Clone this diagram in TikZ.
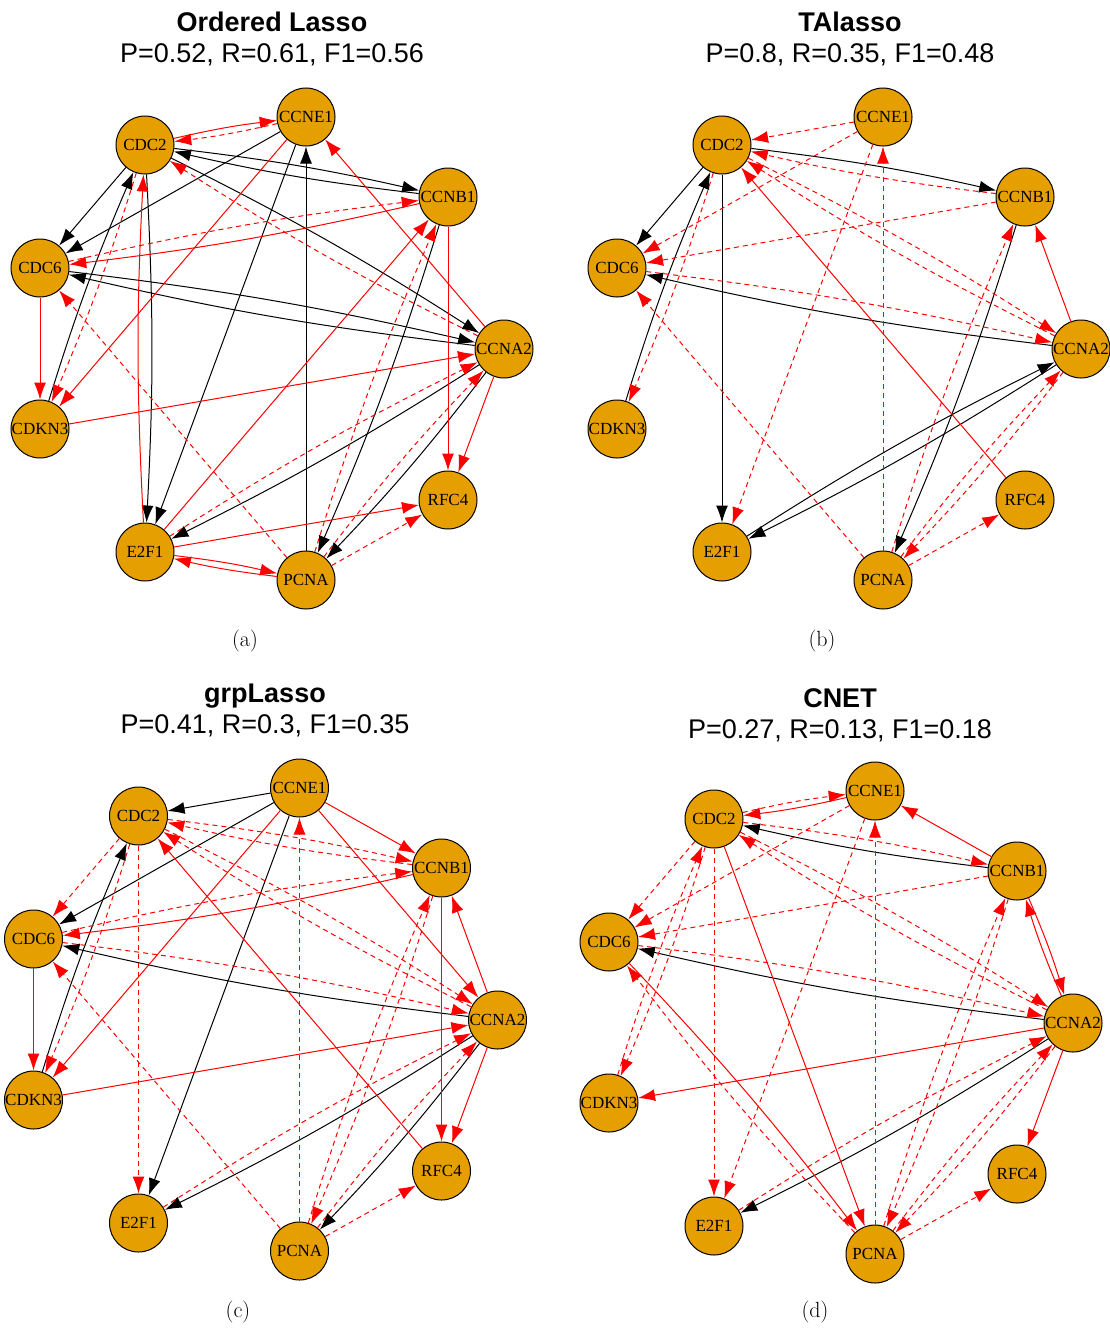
\documentclass[tikz,border=0pt]{standalone}
\usepackage{fontspec}
\setsansfont{Liberation Sans}
\newfontfamily\genefont{Liberation Serif}
\usetikzlibrary{arrows.meta}
\definecolor{geneorange}{RGB}{230,159,0}
\tikzset{%
  tip/.tip={Latex[length=17pt,width=12pt]}, % arrow style
  gene/.style={circle,draw,fill=geneorange,line width=1pt,
    minimum size=58pt,inner sep=0pt,font=\genefont\fontsize{17}{17}\selectfont},
  kedge/.style={-tip,line width=1pt,black},
  redge/.style={-tip,line width=1pt,red},
  dedge/.style={-tip,line width=1pt,red,dash pattern=on 5pt off 4pt},
  twin/.style={bend left=3},
  paneltitle/.style={align=center,font=\sffamily\fontsize{27}{31}\selectfont},
  panelcap/.style={font=\rmfamily\fontsize{22}{22}\selectfont}
}
\newcommand{\genenet}[3]{% prefix, x shift, y shift
  \begin{scope}[shift={(#2,#3)}]
    \node[gene] (#1CDC2)  at (145,145) {CDC2};
    \node[gene] (#1CCNE1) at (306,117) {CCNE1};
    \node[gene] (#1CCNB1) at (448,197) {CCNB1};
    \node[gene] (#1CDC6)  at (40,268)  {CDC6};
    \node[gene] (#1CCNA2) at (504,349) {CCNA2};
    \node[gene] (#1CDKN3) at (40,429)  {CDKN3};
    \node[gene] (#1RFC4)  at (448,500) {RFC4};
    \node[gene] (#1E2F1)  at (145,552) {E2F1};
    \node[gene] (#1PCNA)  at (306,580) {PCNA};
  \end{scope}
}

\begin{document}
\begin{tikzpicture}[x=1pt,y=-1pt]
  \useasboundingbox (0,0) rectangle (1110,1330);
  % titles
  \node[paneltitle] (ta) at (272,39)  {\textbf{Ordered Lasso}\\P=0.52, R=0.61, F1=0.56};
  \node[paneltitle] (tb) at (850,39)  {\textbf{TAlasso}\\P=0.8, R=0.35, F1=0.48};
  \node[paneltitle] (tc) at (265,710) {\textbf{grpLasso}\\P=0.41, R=0.3, F1=0.35};
  \node[paneltitle] (td) at (840,715) {\textbf{CNET}\\P=0.27, R=0.13, F1=0.18};
  % captions
  \node[panelcap] (ca) at (245,641)  {(a)};
  \node[panelcap] (cb) at (822,641)  {(b)};
  \node[panelcap] (cc) at (238,1312) {(c)};
  \node[panelcap] (cd) at (815,1312) {(d)};
  % genes
  \genenet{a}{0}{0}
  \genenet{b}{577}{0}
  \genenet{c}{-6.5}{671}
  \genenet{d}{569}{674}
  % (a) Ordered Lasso
  \draw[kedge] (aCDC2) to[twin] (aCCNB1);
  \draw[kedge] (aCCNB1) to[twin] (aCDC2);
  \draw[kedge] (aCDC2) -- (aCDC6);
  \draw[kedge] (aCCNE1) -- (aCDC6);
  \draw[kedge] (aCCNE1) -- (aE2F1);
  \draw[kedge] (aCDC2) to[twin] (aE2F1);
  \draw[kedge] (aCDKN3) to[twin] (aCDC2);
  \draw[kedge] (aPCNA) -- (aCCNE1);
  \draw[kedge] (aCDC2) to[twin] (aCCNA2);
  \draw[kedge] (aCDC6) to[twin] (aCCNA2);
  \draw[kedge] (aCCNA2) to[twin] (aCDC6);
  \draw[kedge] (aCCNB1) to[twin] (aPCNA);
  \draw[kedge] (aCCNA2) to[twin] (aE2F1);
  \draw[kedge] (aCCNA2) to[twin] (aPCNA);
  \draw[redge] (aCDC2) to[twin] (aCCNE1);
  \draw[redge] (aCCNB1) to[twin] (aCDC6);
  \draw[redge] (aCDC6) -- (aCDKN3);
  \draw[redge] (aCCNE1) -- (aCDKN3);
  \draw[redge] (aCCNA2) -- (aCCNE1);
  \draw[redge] (aE2F1) to[twin] (aCDC2);
  \draw[redge] (aE2F1) -- (aCCNB1);
  \draw[redge] (aCDKN3) -- (aCCNA2);
  \draw[redge] (aCCNB1) -- (aRFC4);
  \draw[redge] (aCCNA2) -- (aRFC4);
  \draw[redge] (aE2F1) -- (aRFC4);
  \draw[redge] (aE2F1) to[twin] (aPCNA);
  \draw[redge] (aPCNA) to[twin] (aE2F1);
  \draw[dedge] (aCCNE1) to[twin] (aCDC2);
  \draw[dedge] (aCDC6) to[twin] (aCCNB1);
  \draw[dedge] (aCCNA2) to[twin] (aCDC2);
  \draw[dedge] (aPCNA) -- (aCDC6);
  \draw[dedge] (aCDC2) to[twin] (aCDKN3);
  \draw[dedge] (aE2F1) to[twin] (aCCNA2);
  \draw[dedge] (aPCNA) to[twin] (aCCNA2);
  \draw[dedge] (aPCNA) to[twin] (aCCNB1);
  \draw[dedge] (aPCNA) -- (aRFC4);
  % (b) TAlasso
  \draw[kedge] (bCDC2) to[twin] (bCCNB1);
  \draw[kedge] (bCDC2) -- (bCDC6);
  \draw[kedge] (bCCNA2) to[twin] (bCDC6);
  \draw[kedge] (bCDKN3) to[twin] (bCDC2);
  \draw[kedge] (bCDC2) -- (bE2F1);
  \draw[kedge] (bCCNA2) to[twin] (bE2F1);
  \draw[kedge] (bE2F1) to[twin] (bCCNA2);
  \draw[kedge] (bCCNB1) to[twin] (bPCNA);
  \draw[redge] (bRFC4) -- (bCDC2);
  \draw[redge] (bCCNA2) -- (bCCNB1);
  \draw[dedge] (bCCNE1) -- (bCDC2);
  \draw[dedge] (bCCNB1) to[twin] (bCDC2);
  \draw[dedge] (bCCNA2) to[twin] (bCDC2);
  \draw[dedge] (bCDC2) to[twin] (bCCNA2);
  \draw[dedge] (bCCNE1) -- (bCDC6);
  \draw[dedge] (bCCNB1) -- (bCDC6);
  \draw[dedge] (bCDC6) to[twin] (bCCNA2);
  \draw[dedge] (bPCNA) -- (bCDC6);
  \draw[dedge] (bCDC2) to[twin] (bCDKN3);
  \draw[dedge] (bCCNE1) -- (bE2F1);
  \draw[dedge] (bPCNA) -- (bCCNE1);
  \draw[dedge] (bPCNA) to[twin] (bCCNB1);
  \draw[dedge] (bPCNA) to[twin] (bCCNA2);
  \draw[dedge] (bCCNA2) to[twin] (bPCNA);
  \draw[dedge] (bPCNA) -- (bRFC4);
  % (c) grpLasso
  \draw[kedge] (cCCNE1) -- (cCDC2);
  \draw[kedge] (cCCNE1) -- (cCDC6);
  \draw[kedge] (cCCNA2) to[twin] (cCDC6);
  \draw[kedge] (cCDKN3) to[twin] (cCDC2);
  \draw[kedge] (cCCNE1) -- (cE2F1);
  \draw[kedge] (cCCNA2) to[twin] (cE2F1);
  \draw[kedge] (cCCNA2) to[twin] (cPCNA);
  \draw[redge] (cRFC4) -- (cCDC2);
  \draw[redge] (cCCNE1) -- (cCCNB1);
  \draw[redge] (cCCNB1) to[twin] (cCDC6);
  \draw[redge] (cCDC6) -- (cCDKN3);
  \draw[redge] (cCCNE1) -- (cCDKN3);
  \draw[redge] (cCCNE1) -- (cCCNA2);
  \draw[redge] (cCCNA2) -- (cCCNB1);
  \draw[redge] (cCCNB1) -- (cRFC4);
  \draw[redge] (cCCNA2) -- (cRFC4);
  \draw[redge] (cCDKN3) -- (cCCNA2);
  \draw[dedge] (cCCNB1) to[twin] (cCDC2);
  \draw[dedge] (cCDC2) to[twin] (cCCNB1);
  \draw[dedge] (cCCNA2) to[twin] (cCDC2);
  \draw[dedge] (cCDC2) to[twin] (cCCNA2);
  \draw[dedge] (cCDC2) -- (cCDC6);
  \draw[dedge] (cCDC6) to[twin] (cCCNB1);
  \draw[dedge] (cCDC6) to[twin] (cCCNA2);
  \draw[dedge] (cPCNA) -- (cCDC6);
  \draw[dedge] (cCDC2) to[twin] (cCDKN3);
  \draw[dedge] (cCDC2) -- (cE2F1);
  \draw[dedge] (cPCNA) -- (cCCNE1);
  \draw[dedge] (cCCNB1) to[twin] (cPCNA);
  \draw[dedge] (cPCNA) to[twin] (cCCNB1);
  \draw[dedge] (cE2F1) to[twin] (cCCNA2);
  \draw[dedge] (cPCNA) to[twin] (cCCNA2);
  \draw[dedge] (cPCNA) -- (cRFC4);
  % (d) CNET
  \draw[kedge] (dCCNB1) to[twin] (dCDC2);
  \draw[kedge] (dCCNA2) to[twin] (dCDC6);
  \draw[kedge] (dCCNA2) to[twin] (dE2F1);
  \draw[redge] (dCCNE1) to[twin] (dCDC2);
  \draw[redge] (dCCNB1) -- (dCCNE1);
  \draw[redge] (dCDC6) to[twin] (dPCNA);
  \draw[redge] (dCDC2) -- (dPCNA);
  \draw[redge] (dCCNA2) to[twin] (dCCNB1);
  \draw[redge] (dCCNB1) to[twin] (dCCNA2);
  \draw[redge] (dCCNA2) -- (dCDKN3);
  \draw[redge] (dCCNA2) -- (dRFC4);
  \draw[dedge] (dCDC2) to[twin] (dCCNE1);
  \draw[dedge] (dCDC2) to[twin] (dCCNB1);
  \draw[dedge] (dCCNA2) to[twin] (dCDC2);
  \draw[dedge] (dCDC2) to[twin] (dCCNA2);
  \draw[dedge] (dCDC2) -- (dCDC6);
  \draw[dedge] (dCCNE1) -- (dCDC6);
  \draw[dedge] (dCCNB1) -- (dCDC6);
  \draw[dedge] (dCDC6) to[twin] (dCCNA2);
  \draw[dedge] (dPCNA) to[twin] (dCDC6);
  \draw[dedge] (dCDC2) to[twin] (dCDKN3);
  \draw[dedge] (dCDKN3) to[twin] (dCDC2);
  \draw[dedge] (dCDC2) -- (dE2F1);
  \draw[dedge] (dCCNE1) -- (dE2F1);
  \draw[dedge] (dPCNA) -- (dCCNE1);
  \draw[dedge] (dPCNA) to[twin] (dCCNB1);
  \draw[dedge] (dCCNB1) to[twin] (dPCNA);
  \draw[dedge] (dE2F1) to[twin] (dCCNA2);
  \draw[dedge] (dPCNA) to[twin] (dCCNA2);
  \draw[dedge] (dCCNA2) to[twin] (dPCNA);
  \draw[dedge] (dPCNA) -- (dRFC4);
\end{tikzpicture}
\end{document}
